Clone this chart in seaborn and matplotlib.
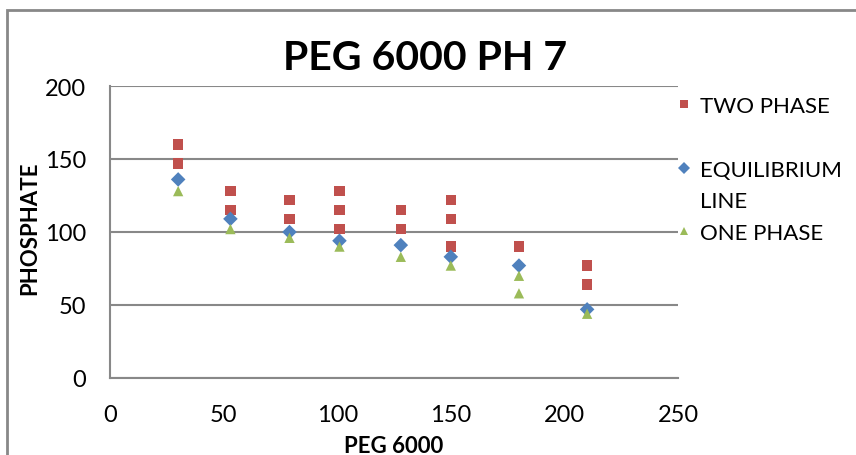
import matplotlib
matplotlib.use("Agg")
import matplotlib.pyplot as plt
from matplotlib.lines import Line2D
from matplotlib.patches import Rectangle
import seaborn as sns
import pandas as pd

two_x = [30, 30, 53, 53, 79, 79, 101, 101, 101, 128, 128, 150, 150, 150, 180, 210, 210]
two_y = [160, 147, 128, 115, 122, 109, 128, 115, 102, 115, 102, 122, 109, 90, 90, 77, 64]
eq_x = [30, 53, 79, 101, 128, 150, 180, 210]
eq_y = [136, 109, 100, 94, 91, 83, 77, 47]
one_x = [30, 53, 79, 101, 128, 150, 180, 180, 210]
one_y = [128, 102, 96, 90, 83, 77, 70, 58, 44]

labels = ["TWO PHASE", "EQUILIBRIUM", "ONE PHASE"]
colors = ["#C0504D", "#4F81BD", "#9BBB59"]
markers = ["s", "D", "^"]

df = pd.concat([
    pd.DataFrame({"x": two_x, "y": two_y, "series": labels[0]}),
    pd.DataFrame({"x": eq_x, "y": eq_y, "series": labels[1]}),
    pd.DataFrame({"x": one_x, "y": one_y, "series": labels[2]}),
])

sns.set_style("white")
plt.rcParams["font.family"] = ["Lato", "DejaVu Sans"]
plt.rcParams["text.color"] = "black"

fig = plt.figure(figsize=(8.56, 4.56), dpi=100)
ax = fig.add_axes([110/856, 1-379/456, 568/856, 292/456])

sns.scatterplot(data=df, x="x", y="y", hue="series", style="series",
                hue_order=labels, style_order=labels,
                palette=dict(zip(labels, colors)), markers=dict(zip(labels, markers)),
                s=55, linewidth=0, ax=ax, zorder=3)

ax.set_xlim(0, 250)
ax.set_ylim(0, 200)
ax.set_xticks([0, 50, 100, 150, 200, 250])
ax.set_yticks([0, 50, 100, 150, 200])
ax.yaxis.grid(True, color="#888888", linewidth=1.5)
ax.set_axisbelow(True)
for s in ["top", "right"]:
    ax.spines[s].set_visible(False)
for s in ["left", "bottom"]:
    ax.spines[s].set_color("#888888")
    ax.spines[s].set_linewidth(1.5)
ax.tick_params(axis="both", length=0, labelsize=17, colors="black")
ax.tick_params(axis="y", pad=17)
ax.tick_params(axis="x", pad=19)
ax.set_xlabel("PEG 6000", fontsize=16, fontweight="bold", color="black")
ax.set_ylabel("PHOSPHATE", fontsize=16, fontweight="bold", color="black")
ax.xaxis.set_label_coords(0.5, (379-436)/292)
ax.yaxis.set_label_coords((40-110)/568, (379-228)/292)
ax.set_title("PEG 6000 PH 7", fontsize=29.5, fontweight="bold", pad=12, color="black")
ax.title.set_x((425-110)/568)

h, l = ax.get_legend_handles_labels()
hmap = dict(zip(l, h))
blank = Line2D([], [], linestyle="none", marker=None)
handles = [hmap[labels[0]], blank, hmap[labels[1]], blank, hmap[labels[2]]]
texts = ["TWO PHASE", " ", "EQUILIBRIUM", "LINE", "ONE PHASE"]
ax.legend(handles, texts, loc="upper left", bbox_to_anchor=(673/856, 1-97/456),
          bbox_transform=fig.transFigure, frameon=False, fontsize=16,
          handletextpad=0.2, labelspacing=0.53, handlelength=1.0,
          markerscale=0.85, borderaxespad=0, borderpad=0)

fig.add_artist(Rectangle((6.5/856, -0.1), 1.2, 1 - 10.5/456 + 0.1, transform=fig.transFigure,
                         fill=False, edgecolor="#888888", linewidth=2))

fig.savefig("out.png", dpi=100)
